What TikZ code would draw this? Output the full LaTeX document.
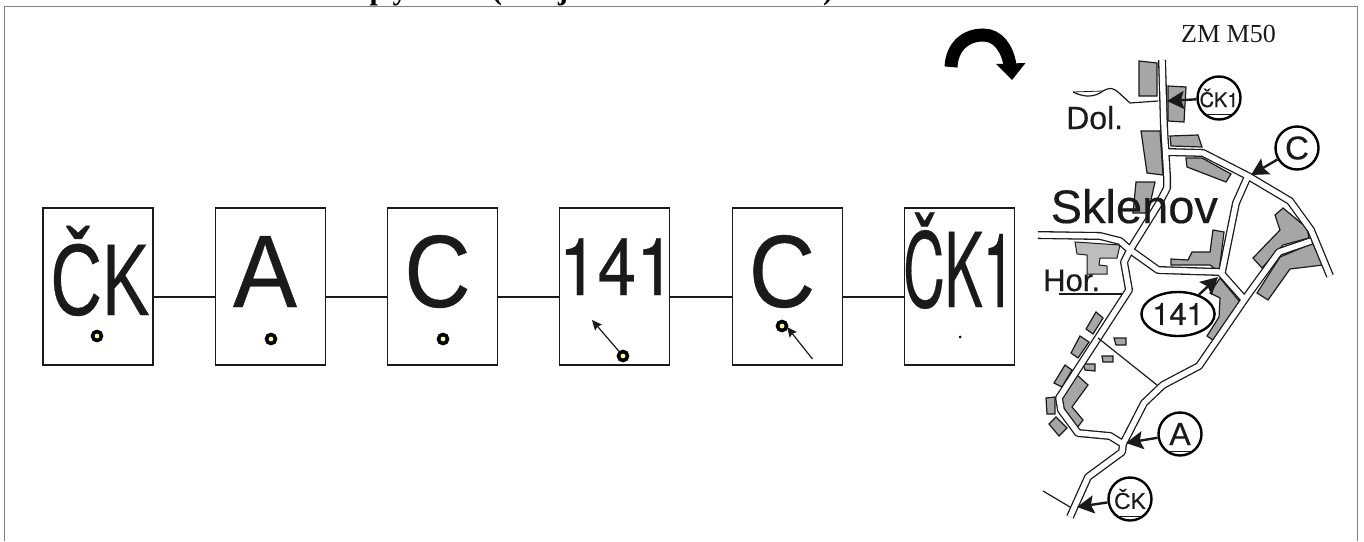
\documentclass[tikz,border=0pt]{standalone}
\usepackage{fontspec}
\setmainfont[FakeBold=0.4]{Liberation Sans}
\newfontfamily\serifrm{Liberation Serif}
\newfontfamily\heros[FakeBold=0.4]{TeX Gyre Heros}
\usetikzlibrary{arrows.meta,shapes.geometric}
\definecolor{ink}{HTML}{1A1A1A}
\definecolor{bldg}{HTML}{A6A6A6}
\definecolor{bldgl}{HTML}{BDBDBD}
\definecolor{dotfill}{HTML}{FFFF99}
\newcommand{\sz}[1]{\fontsize{#1}{#1}\selectfont}
\newcommand{\roadpaths}{
  (1162,60) -- (1164,127) -- (1167,177) -- (1167,188) -- (1158,205) -- (1130,250) -- (1124,262) -- (1129,290) -- (1059,398) -- (1061,410) -- (1078,433) -- (1110,436) -- (1123,444)
  (1038,235) -- (1100,236) -- (1120,241) -- (1130,250) -- (1158,270) -- (1220,272) -- (1243,298)
  (1167,152) -- (1203,153) -- (1248,176) -- (1290,201) -- (1311,230) -- (1330,276)
  (1248,176) -- (1236,203) -- (1222,272)
  (1311,241) -- (1279,252) -- (1247,296) -- (1199,366) -- (1163,385) -- (1144,403) -- (1123,444) -- (1122,452) -- (1088,477) -- (1070,517)
}
\tikzset{
  x=1pt,y=-1pt,
  frame/.style={draw=black!50,line width=1pt},
  seqbox/.style={draw=ink,line width=1.3pt,fill=white,minimum width=110pt,minimum height=157pt,inner sep=0pt},
  link/.style={draw=ink,line width=1.2pt},
  bigt/.style={anchor=base,inner sep=0pt,text=ink},
  marker/.style={circle,draw=black,fill=dotfill,line width=3.6pt,minimum size=9pt,inner sep=0pt},
  house/.style={draw=ink,fill=bldg,line width=1.2pt},
  houselight/.style={draw=ink,fill=bldgl,line width=1pt},
  thin/.style={draw=ink,line width=1.2pt},
  tag/.style={circle,draw=black,fill=white,line width=2.4pt,minimum size=43pt,inner sep=0pt,text=ink},
  ovaltag/.style={ellipse,draw=black,fill=white,line width=2.4pt,minimum width=62pt,minimum height=44pt,inner sep=0pt,text=ink},
  chord/.style={draw=ink,line width=0.9pt},
  maparrow/.style={draw=ink,line width=2.4pt,-{Stealth[length=17pt,width=18pt,inset=3pt]}},
  boxarrow/.style={draw=ink,line width=1.2pt,-{Stealth[length=10pt,width=9pt,inset=1.5pt]}},
  mapt/.style={anchor=base west,inner sep=0pt,text=ink},
  toptext/.style={anchor=base,inner sep=0pt,font=\serifrm\bfseries\sz{30}}
}
\begin{document}
\begin{tikzpicture}
\useasboundingbox (0,0) rectangle (1364,541);
\begin{scope}
  \clip (0,0) rectangle (1364,6);
  \node[toptext] (tp) at (378,-1) {p};
  \node[toptext] (ty) at (400,-1) {y};
  \node[toptext] (tl) at (497,-1) {(};
  \node[toptext] (tj) at (563,-1) {j};
  \node[toptext] (tr) at (828,-1) {)};
\end{scope}
\draw[frame] (4,541) -- (4,6) -- (1357.5,6) -- (1357.5,541);

% sequence boxes
\node[seqbox] (b1) at (98,286.5) {};
\node[seqbox] (b2) at (270.5,286.5) {};
\node[seqbox] (b3) at (442.5,286.5) {};
\node[seqbox] (b4) at (614.5,286.5) {};
\node[seqbox] (b5) at (787.5,286.5) {};
\node[seqbox] (b6) at (959.5,286.5) {};
\foreach \a/\b in {b1/b2,b2/b3,b3/b4,b4/b5,b5/b6}{\draw[link] ([yshift=-10.5pt]\a.east) -- ([yshift=-10.5pt]\b.west);}
\node[bigt] (t1) at (100,315) {\scalebox{0.70}[1]{\sz{102}ČK}};
\node[bigt] (t2) at (265,307) {\scalebox{0.93}[1]{\sz{103}A}};
\node[bigt] (t3) at (437.5,307) {\scalebox{0.89}[1]{\sz{103}C}};
\node[bigt] (t4) at (617,295) {\scalebox{0.87}[1]{\heros\sz{80}141}};
\node[bigt] (t5) at (782,307) {\scalebox{0.89}[1]{\sz{103}C}};
\node[bigt] (t6) at (959,307) {\scalebox{0.56}[1]{\heros\sz{103}ČK1}};
\node[marker] (m1) at (97,336) {};
\node[marker] (m2) at (271,339) {};
\node[marker] (m3) at (443,339) {};
\node[marker] (m4) at (623,356) {};
\node[marker] (m5) at (782,326) {};
\node[circle,fill=black,minimum size=3pt,inner sep=0pt] (m6) at (960,337) {};
\coordinate (a4) at (592,320);
\coordinate (a5s) at (812.5,359);
\coordinate (a5e) at (787,327);
\draw[boxarrow] (m4) -- (a4);
\draw[boxarrow] (a5s) -- (a5e);

% curved arrow
\coordinate (cs) at (951,67);
\coordinate (ct) at (983,35);
\coordinate (ce) at (1010,65);
\draw[black,line width=13pt] (cs) .. controls (952,46) and (966,35) .. (ct) .. controls (998,35) and (1007,48) .. (ce);
\fill[black] (996,64) -- (1025.5,63) -- (1012,80) -- cycle;

% map: houses
\draw[house] (1139,61) -- (1157,63) -- (1157,96) -- (1139,96) -- cycle;
\draw[house] (1168,86) -- (1186,87) -- (1184,122) -- (1168,121) -- cycle;
\draw[house] (1141,131) -- (1160,131) -- (1163,175) -- (1147,173) -- cycle;
\draw[house] (1170,136) -- (1198,135) -- (1202,147) -- (1171,146) -- cycle;
\draw[house] (1186,158) -- (1202,158) -- (1231,174) -- (1226,182) -- (1187,167) -- cycle;
\draw[house] (1136,182) -- (1155,182) -- (1148,213) -- (1133,213) -- cycle;
\draw[houselight] (1075,242) -- (1120,245) -- (1117,258) -- (1100,258) -- (1099,265) -- (1107,266) -- (1107,274) -- (1087,274) -- (1087,255) -- (1077,254) -- cycle;
\draw[house] (1171,259) -- (1188,260) -- (1192,252) -- (1210,252) -- (1213,230) -- (1224,232) -- (1219,272) -- (1210,265) -- (1171,265) -- cycle;
\draw[house] (1283,208) -- (1307,228) -- (1309,238) -- (1283,245) -- (1262,268) -- (1253,258) -- (1280,230) -- (1275,215) -- cycle;
\draw[house] (1313,243) -- (1323,265) -- (1290,269) -- (1268,300) -- (1257,293) -- (1280,257) -- cycle;
\draw[house] (1220,278) -- (1240,302) -- (1213,340) -- (1207,336) -- (1219,317) -- (1220,298) -- (1210,293) -- cycle;
\draw[house] (1096,312) -- (1103,318) -- (1093,334) -- (1086,329) -- cycle;
\draw[house] (1080,336) -- (1089,342) -- (1078,358) -- (1071,353) -- cycle;
\draw[house] (1065,365) -- (1072,370) -- (1062,387) -- (1054,383) -- cycle;
\draw[house] (1077,375) -- (1088,385) -- (1072,407) -- (1083,420) -- (1077,428) -- (1062,410) -- (1062,398) -- cycle;
\draw[house] (1046,398) -- (1055,397) -- (1055,414) -- (1047,414) -- cycle;
\draw[house] (1056,417) -- (1067,428) -- (1059,436) -- (1049,424) -- cycle;
\draw[house] (1114,338) -- (1126,338) -- (1126,345) -- (1116,345) -- cycle;
\draw[house] (1102,356) -- (1113,356) -- (1113,362) -- (1103,362) -- cycle;
\draw[house] (1083,364) -- (1095,364) -- (1095,371) -- (1085,370) -- cycle;

% map: roads
\draw[ink,line width=8pt,line join=round] \roadpaths;
\draw[white,line width=5.4pt,line join=round] \roadpaths;

% map: thin lines
\draw[thin] (1098,338) -- (1157,385);
\draw[thin] (1043,491) -- (1070,507);
\draw[thin] (1059,294) -- (1122,294);
\draw[thin] (1073,92) .. controls (1085,98) and (1095,97) .. (1103,91) .. controls (1110,87) and (1113,88) .. (1118,92) -- (1130,103) -- (1158,101);
\draw[draw=ink,line width=0.8pt] (1073,92) -- (1103,91);

% map: names
\node[mapt,font=\sz{47}] (sk) at (1050.5,223) {Sklenov};
\node[mapt,font=\sz{32}] (dol) at (1066,129) {Dol.};
\node[mapt,font=\sz{31}] (hor) at (1043,291) {Hor.};
\node[mapt,font=\serifrm\sz{26}] (zm) at (1181,42) {ZM M50};

% map: tags
\coordinate (p1) at (1167,101);
\coordinate (p2) at (1251,175);
\coordinate (p3) at (1218,277);
\coordinate (p4) at (1126,443);
\coordinate (p5) at (1077,507);
\node[tag,font=\heros\sz{20}] (c1) at (1219,98) {ČK1};
\node[tag,font=\sz{33}] (c2) at (1297,148) {C};
\node[ovaltag,font=\heros\sz{31}] (c3) at (1178,314) {141};
\node[tag,font=\sz{32}] (c4) at (1180,434) {A};
\node[tag,font=\sz{23}] (c5) at (1130,499) {ČK};
\draw[chord] ([shift={(-12,16)}]c1.center) -- ([shift={(12,16)}]c1.center);
\draw[chord] ([shift={(-12,17)}]c4.center) -- ([shift={(12,17)}]c4.center);
\draw[chord] ([shift={(-12,17)}]c5.center) -- ([shift={(12,17)}]c5.center);
\draw[maparrow] (c1) -- (p1);
\draw[maparrow] (c2) -- (p2);
\draw[maparrow] (c3) -- (p3);
\draw[maparrow] (c4) -- (p4);
\draw[maparrow] (c5) -- (p5);
\end{tikzpicture}
\end{document}
